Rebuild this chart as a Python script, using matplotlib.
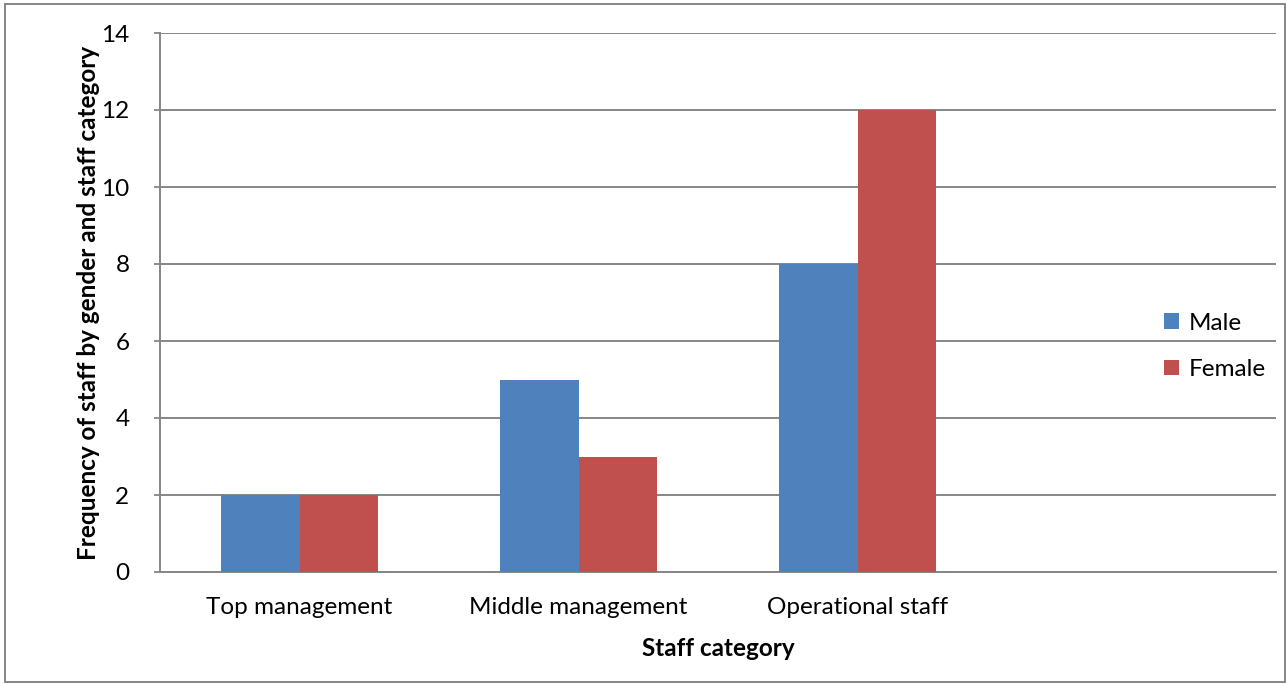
import numpy as np
import matplotlib.pyplot as plt
from matplotlib.patches import Rectangle

categories = ["Top management", "Middle management", "Operational staff", ""]
male = [2, 5, 8]
female = [2, 3, 12]

plt.rcParams['font.family'] = ['Lato', 'DejaVu Sans']
fs = 17.5

fig = plt.figure(figsize=(12.86, 6.84), dpi=100)
ax = fig.add_axes([160 / 1286, 1 - 572 / 684, (1276 - 160) / 1286, (572 - 33) / 684])

x = np.arange(len(male))
w = 0.283
ax.bar(x - w / 2, male, w, color="#4F81BD", label="Male", zorder=3)
ax.bar(x + w / 2, female, w, color="#C0504D", label="Female", zorder=3)

ax.set_xlim(-0.5, len(categories) - 0.5)
ax.set_ylim(0, 14)
ax.set_yticks(range(0, 15, 2))
ax.set_xticks(range(len(categories)))
ax.set_xticklabels(categories)
ax.tick_params(axis="x", length=0, pad=18, labelsize=fs)
ax.tick_params(axis="y", length=4, width=1.3, color="#868686", pad=18, labelsize=fs)
ax.grid(axis="y", color="#868686", linewidth=1.4, zorder=0)
for s in ["top", "right"]:
    ax.spines[s].set_visible(False)
for s in ["left", "bottom"]:
    ax.spines[s].set_color("#868686")
    ax.spines[s].set_linewidth(1.4)

ax.set_xlabel("Staff category", fontsize=fs, fontweight="bold", labelpad=14)
ax.set_ylabel("Frequency of staff by gender and staff category", fontsize=fs,
              fontweight="bold", labelpad=1)

ax.legend(loc="center left", bbox_to_anchor=(0.88, 0.419), frameon=False,
          fontsize=fs, handlelength=0.6, handleheight=0.6, handletextpad=0.4,
          labelspacing=1.04)

fig.patches.append(Rectangle((5 / 1286, 2 / 684), 1 - 6 / 1286, 1 - 6 / 684,
                             transform=fig.transFigure, fill=False,
                             edgecolor="#868686", linewidth=1.4))

fig.savefig("out.png", dpi=100)
